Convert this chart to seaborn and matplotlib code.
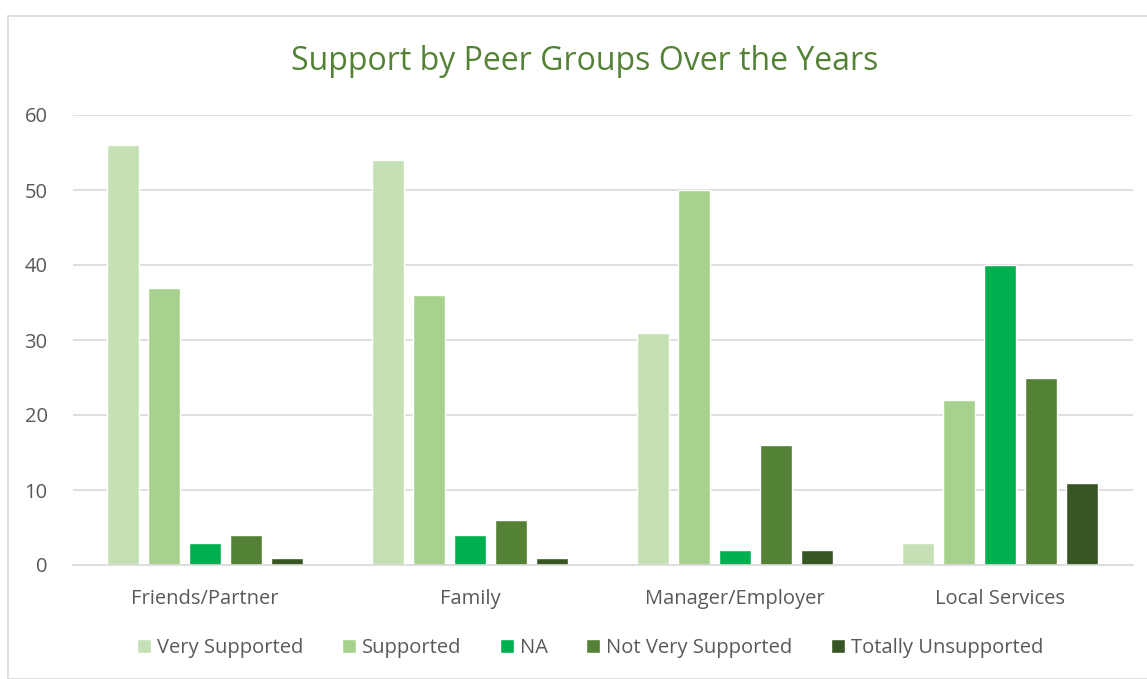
import matplotlib
matplotlib.use("Agg")
import matplotlib.pyplot as plt
from matplotlib.patches import Rectangle
import seaborn as sns
import pandas as pd

categories = ["Friends/Partner", "Family", "Manager/Employer", "Local Services"]
levels = ["Very Supported", "Supported", "NA", "Not Very Supported", "Totally Unsupported"]
very_supported = [56, 54, 31, 3]
supported = [37, 36, 50, 22]
na = [3, 4, 2, 40]
not_very_supported = [4, 6, 16, 25]
totally_unsupported = [1, 1, 2, 11]
colors = ["#C5E0B4", "#A9D18E", "#00B050", "#548235", "#375623"]

series = [very_supported, supported, na, not_very_supported, totally_unsupported]
rows = []
for lvl, vals in zip(levels, series):
    for cat, v in zip(categories, vals):
        rows.append({"Group": cat, "Level": lvl, "Count": v})
df = pd.DataFrame(rows)

sns.set_theme(style="white")
plt.rcParams["font.family"] = ["Open Sans", "DejaVu Sans"]

fig = plt.figure(figsize=(11.47, 6.79), dpi=100)
ax = fig.add_axes([72.5 / 1147, 1 - 565 / 679, 1060 / 1147, 450 / 679])

# outer chart border
fig.patches.append(Rectangle((8 / 1147, 0), 1.2, (679 - 16) / 679, transform=fig.transFigure,
                             fill=False, edgecolor="#D9D9D9", linewidth=1.2))

sns.barplot(data=df, x="Group", y="Count", hue="Level", order=categories, hue_order=levels,
            palette=colors, width=0.775, gap=0.22, ax=ax, saturation=1, legend=True)

ax.set_ylim(0, 60)
ax.set_xlim(-0.5, 3.5)
ax.set_yticks(range(0, 61, 10))
ax.yaxis.grid(True, color="#D9D9D9", linewidth=1.2)
ax.set_axisbelow(True)
for s in ["top", "right", "left"]:
    ax.spines[s].set_visible(False)
ax.spines["bottom"].set_color("#D9D9D9")
ax.spines["bottom"].set_linewidth(1.2)
ax.set_xlabel("")
ax.set_ylabel("")
ax.tick_params(axis="both", length=0, labelsize=14.5, labelcolor="#595959")
ax.tick_params(axis="y", pad=18)
ax.tick_params(axis="x", pad=17)

fig.text(585 / 1147, 1 - 62 / 679, "Support by Peer Groups Over the Years",
         ha="center", va="center", fontsize=23, color="#548235")

handles, labels = ax.get_legend_handles_labels()
ax.legend(handles, labels, loc="center", bbox_to_anchor=(590 / 1147, 1 - 648 / 679),
          bbox_transform=fig.transFigure, ncol=5, frameon=False, fontsize=14.5,
          handlelength=0.7, handleheight=0.7, handletextpad=0.3, columnspacing=1.9,
          labelcolor="#595959")

fig.savefig("out.png", dpi=100)
